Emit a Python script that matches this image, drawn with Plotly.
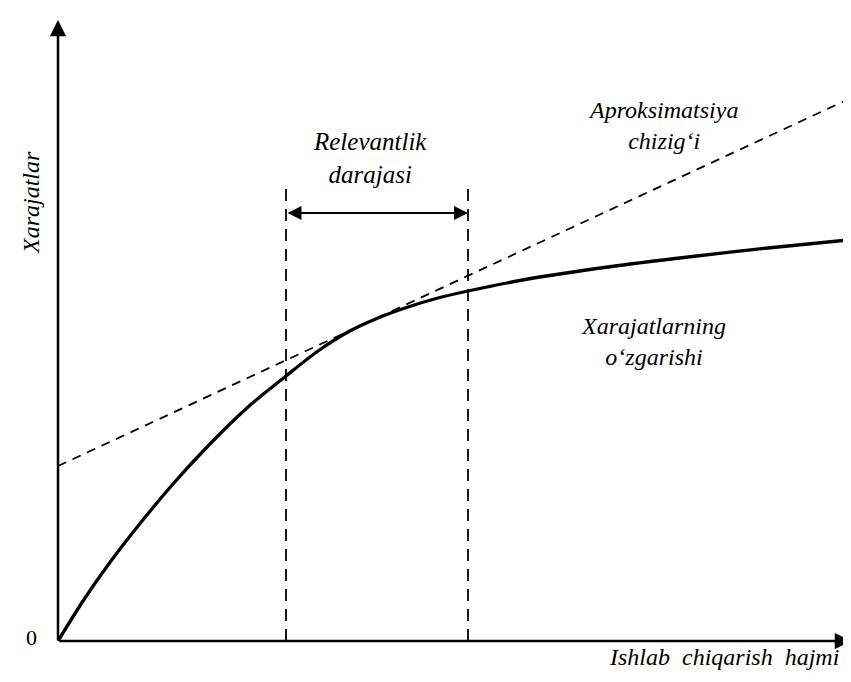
import plotly.graph_objects as go

# solid curve: cost change (Xarajatlarning o'zgarishi)
curve_x = [0, 25, 50, 80, 115, 150, 190, 228, 260, 290, 320, 350, 380, 410, 470, 550, 630, 710, 790]
curve_y = [0, 40, 76, 115, 157, 195, 234, 265, 290, 309, 323, 334, 343, 350, 362, 374, 384, 393, 401]

# dashed approximation line
approx_x = [0, 793]
approx_y = [175, 543]

# relevant range bounds
range_lo = 228
range_hi = 410
range_top = 460
range_arrow_y = 428

x_end = 793
y_end = 621

FONT = "Liberation Serif"

fig = go.Figure()

fig.add_trace(go.Scatter(x=approx_x, y=approx_y, mode="lines",
                         line=dict(color="black", width=1.8, dash="9px,7px"),
                         hoverinfo="skip"))
fig.add_trace(go.Scatter(x=curve_x, y=curve_y, mode="lines",
                         line=dict(color="black", width=3.3, shape="spline", smoothing=0.8),
                         hoverinfo="skip"))
for xv in [range_lo, range_hi]:
    fig.add_trace(go.Scatter(x=[xv, xv], y=[0, range_top], mode="lines",
                             line=dict(color="black", width=1.8, dash="12px,8px"),
                             hoverinfo="skip"))

arrow = dict(showarrow=True, arrowhead=2, arrowsize=1.3, arrowwidth=2.5, arrowcolor="black",
             xref="x", yref="y", axref="x", ayref="y", text="")
# axes
fig.add_annotation(x=0, y=y_end, ax=0, ay=0, **arrow)
fig.add_annotation(x=x_end, y=0, ax=0, ay=0, **arrow)
# relevance range double arrow
fig.add_annotation(x=range_hi, y=range_arrow_y, ax=range_lo, ay=range_arrow_y,
                   showarrow=True, arrowhead=2, arrowsize=1.4, arrowwidth=2, arrowcolor="black",
                   arrowside="end+start", xref="x", yref="y", axref="x", ayref="y", text="")


def label(x, y, text, size=24, **kw):
    fig.add_annotation(x=x, y=y, text="<i>%s</i>" % text, xref="x", yref="y", showarrow=False,
                       font=dict(family=FONT, size=size, color="black"), **kw)


label(312, 483, "Relevantlik<br>darajasi", 25)
label(605, 516, "Aproksimatsiya<br>chizig‘i")
label(595, 300, "Xarajatlarning<br>o‘zgarishi")
label(783, -16, "Ishlab  chiqarish  hajmi", 24, xanchor="right")
label(-27, 438, "Xarajatlar", 24, textangle=-90)
fig.add_annotation(x=-27, y=4, text="0", xref="x", yref="y", showarrow=False,
                   font=dict(family=FONT, size=22, color="black"))

fig.update_layout(
    width=851, height=682,
    margin=dict(l=0, r=0, t=0, b=0),
    plot_bgcolor="white", paper_bgcolor="white",
    showlegend=False,
    xaxis=dict(range=[-50, 801], visible=False, fixedrange=True),
    yaxis=dict(range=[-49, 633], visible=False, fixedrange=True),
)

fig.write_html("out.html")
